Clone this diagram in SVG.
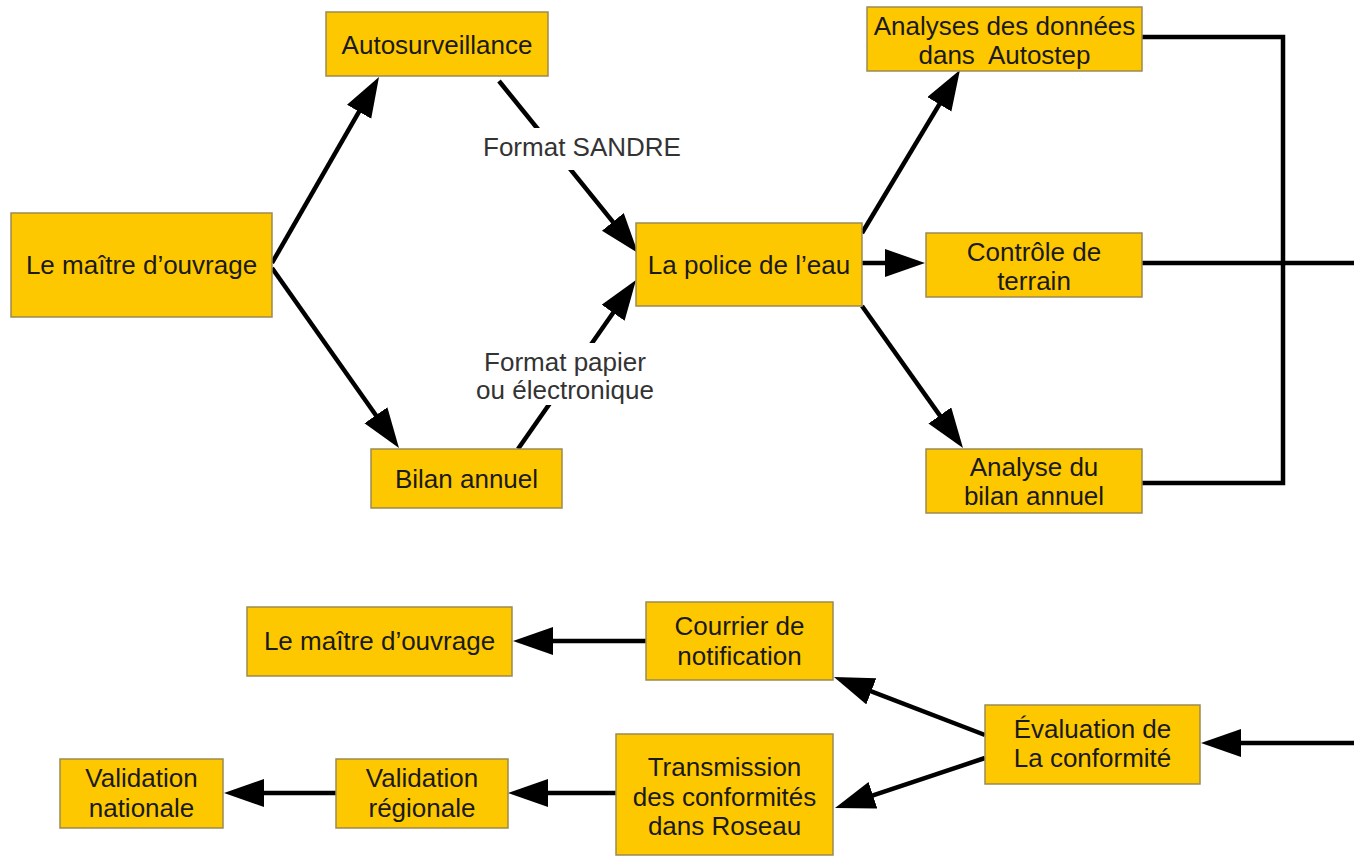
<svg xmlns="http://www.w3.org/2000/svg" width="1354" height="856" viewBox="0 0 1354 856">
<style>
.box{fill:#fec800;stroke:#9a8a50;stroke-width:1.5}
.t{font-family:"Liberation Sans",Arial,sans-serif;font-size:26px;fill:#1a1a1a;text-anchor:middle}
.lbl{font-family:"Liberation Sans",Arial,sans-serif;font-size:26px;fill:#333;text-anchor:middle}
.c{stroke:#000;stroke-width:4.5;fill:none}
.a{marker-end:url(#ah)}
</style>
<defs>
<marker id="ah" markerUnits="userSpaceOnUse" markerWidth="42" markerHeight="30" refX="30" refY="14" orient="auto">
<path d="M0,0 L40,14 L0,28 z" fill="#000"/>
</marker>
</defs>
<rect width="1354" height="856" fill="#fff"/>
<g id="connectors">
<line class="c a" x1="272" y1="263" x2="374" y2="85.7"/>
<line class="c a" x1="272" y1="268" x2="393.2" y2="439.8"/>
<line class="c a" x1="499" y1="81" x2="631.7" y2="245.2"/>
<line class="c a" x1="518" y1="449" x2="630.3" y2="288.2"/>
<line class="c a" x1="862" y1="233" x2="954.8" y2="78.6"/>
<line class="c a" x1="862" y1="263" x2="915" y2="263"/>
<line class="c a" x1="862" y1="306" x2="957.2" y2="439.9"/>
<polyline class="c" points="1142,37 1283,37 1283,483 1142,483"/>
<line class="c" x1="1142" y1="263" x2="1354" y2="263"/>
<line class="c a" x1="1354" y1="743" x2="1211" y2="743"/>
<line class="c a" x1="985" y1="735" x2="843.3" y2="680.6"/>
<line class="c a" x1="985" y1="758" x2="844.5" y2="804.8"/>
<line class="c a" x1="646" y1="641" x2="523" y2="641"/>
<line class="c a" x1="617" y1="793" x2="518" y2="793"/>
<line class="c a" x1="336" y1="793" x2="234" y2="793"/>
<rect x="476" y="128" width="214" height="42" fill="#fff"/>
<text class="lbl" x="582" y="156">Format SANDRE</text>
<rect x="468" y="343" width="196" height="62" fill="#fff"/>
<text class="lbl" x="565" y="371">Format papier</text>
<text class="lbl" x="565" y="399">ou électronique</text>
</g>
<g id="maitre1"><rect class="box" x="11" y="213" width="261" height="104"/><text class="t" x="141.5" y="274">Le maître d’ouvrage</text></g>
<g id="autosurveillance"><rect class="box" x="326" y="12" width="222" height="64"/><text class="t" x="437" y="54">Autosurveillance</text></g>
<g id="bilan"><rect class="box" x="371" y="449" width="191" height="59"/><text class="t" x="466.5" y="488">Bilan annuel</text></g>
<g id="police"><rect class="box" x="636" y="223" width="226" height="83"/><text class="t" x="749" y="274">La police de l’eau</text></g>
<g id="analyses"><rect class="box" x="867" y="7" width="275" height="64"/><text class="t" x="1004.5" y="35">Analyses des données</text><text class="t" x="1004.5" y="64" xml:space="preserve">dans  Autostep</text></g>
<g id="controle"><rect class="box" x="926" y="233" width="216" height="64"/><text class="t" x="1034" y="261">Contrôle de</text><text class="t" x="1034" y="290">terrain</text></g>
<g id="analyse-bilan"><rect class="box" x="926" y="449" width="216" height="64"/><text class="t" x="1034" y="476">Analyse du</text><text class="t" x="1034" y="505">bilan annuel</text></g>
<g id="maitre2"><rect class="box" x="247" y="607" width="265" height="69"/><text class="t" x="379.5" y="650">Le maître d’ouvrage</text></g>
<g id="courrier"><rect class="box" x="646" y="602" width="187" height="78"/><text class="t" x="739.5" y="635">Courrier de</text><text class="t" x="739.5" y="665">notification</text></g>
<g id="transmission"><rect class="box" x="616" y="734" width="217" height="121"/><text class="t" x="724.5" y="776">Transmission</text><text class="t" x="724.5" y="806">des conformités</text><text class="t" x="724.5" y="835">dans Roseau</text></g>
<g id="evaluation"><rect class="box" x="985" y="705" width="215" height="79"/><text class="t" x="1092.5" y="738">Évaluation de</text><text class="t" x="1092.5" y="767">La conformité</text></g>
<g id="val-regionale"><rect class="box" x="336" y="759" width="172" height="69"/><text class="t" x="422" y="787">Validation</text><text class="t" x="422" y="817">régionale</text></g>
<g id="val-nationale"><rect class="box" x="60" y="759" width="163" height="69"/><text class="t" x="141.5" y="787">Validation</text><text class="t" x="141.5" y="817">nationale</text></g>
</svg>
